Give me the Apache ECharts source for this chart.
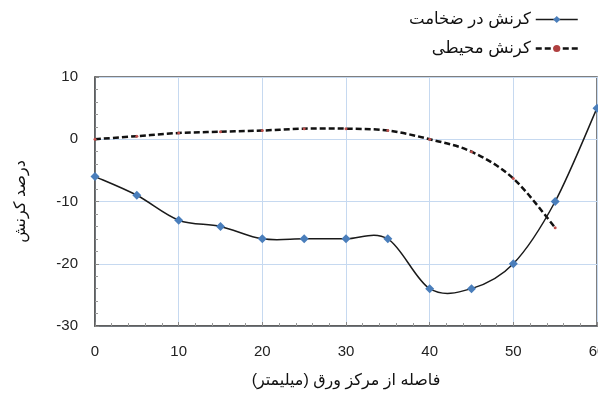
<!DOCTYPE html>
<html><head><meta charset="utf-8">
<script src="https://cdn.jsdelivr.net/npm/echarts@6/dist/echarts.min.js"></script>
<style>html,body{margin:0;padding:0;background:#fff}#c{width:598px;height:396px}</style>
</head><body><div id="c"></div>
<script>
var distances = [0, 5, 10, 15, 20, 25, 30, 35, 40, 45, 50, 55, 60];
var thicknessStrain = [-6, -9, -13, -14, -16, -16, -16, -16, -24, -24, -20, -10, 5];
var distances2 = [0, 5, 10, 15, 20, 25, 30, 35, 40, 45, 50, 55];
var hoopStrain = [0, 0.5, 1.0, 1.2, 1.4, 1.7, 1.7, 1.4, 0, -2, -6.3, -14.2];
var name1 = 'کرنش در ضخامت';
var name2 = 'کرنش محیطی';
var xTitle = 'فاصله از مرکز ورق (میلیمتر)\u200F';
var yTitle = 'درصد کرنش';
var FONT = '"Liberation Sans", "DejaVu Sans", Arial, sans-serif';

function pairs(xs, ys){ return xs.map(function(x,i){ return [x, ys[i]]; }); }

// Excel-like smoothed line drawn through the data points via the axis scales
function smoothRenderer(stroke, width, dash){
  return function(params, api){
    if (params.dataIndexInside !== 0) return null;
    var n = params.dataInsideLength, p = [];
    for (var i = 0; i < n; i++) p.push(api.coord([api.value(0, i), api.value(1, i)]));
    var d = 'M' + p[0][0] + ' ' + p[0][1];
    for (var k = 0; k < n - 1; k++){
      var p0 = p[Math.max(k - 1, 0)], p1 = p[k], p2 = p[k + 1], p3 = p[Math.min(k + 2, n - 1)];
      var c1x = p1[0] + (p2[0] - p0[0]) / 6, c1y = p1[1] + (p2[1] - p0[1]) / 6;
      var c2x = p2[0] - (p3[0] - p1[0]) / 6, c2y = p2[1] - (p3[1] - p1[1]) / 6;
      d += ' C' + c1x + ' ' + c1y + ' ' + c2x + ' ' + c2y + ' ' + p2[0] + ' ' + p2[1];
    }
    return {type: 'path', shape: {pathData: d},
      style: {fill: 'none', stroke: stroke, lineWidth: width, lineDash: dash || null}};
  };
}

var chart = echarts.init(document.getElementById('c'), null, {renderer:'canvas'});
chart.setOption({
  animation: false,
  textStyle: {fontFamily: FONT},
  grid: {left: 95, right: 1, top: 77, bottom: 70, show: true, borderColor: '#555', borderWidth: 1.5,
         outerBoundsMode: 'none', containLabel: false},
  legend: {
    orient: 'vertical', right: 14, top: 6, align: 'right', itemGap: 12,
    itemWidth: 42, itemHeight: 9,
    textStyle: {fontSize: 16.5, color: '#111', fontFamily: FONT},
    data: [
      {name: name1, lineStyle: {opacity: 1, color: '#1a1a1a', width: 1.5, type: 'solid'}},
      {name: name2, itemStyle: {color: '#b04040'},
       lineStyle: {opacity: 1, color: '#111', width: 2.5, type: [6, 3]}}
    ]
  },
  xAxis: {
    type: 'value', min: 0, max: 60, interval: 10,
    name: xTitle, nameLocation: 'middle', nameGap: 47,
    nameTextStyle: {fontSize: 16, color: '#111', fontFamily: FONT},
    axisLine: {show: true, onZero: false, lineStyle: {color: '#555', width: 1.5}},
    axisTick: {show: true, inside: true, length: 4, lineStyle: {color: '#888'}},
    minorTick: {show: true, splitNumber: 5, length: 3, lineStyle: {color: '#999'}},
    axisLabel: {fontSize: 15, color: '#222', margin: 18, fontFamily: FONT},
    splitLine: {show: true, lineStyle: {color: '#c6d9f0', width: 1}}
  },
  yAxis: {
    type: 'value', min: -30, max: 10, interval: 10,
    name: yTitle, nameLocation: 'middle', nameGap: 66, nameRotate: 90,
    nameTextStyle: {fontSize: 16, color: '#111', fontFamily: FONT},
    axisLine: {show: true, lineStyle: {color: '#555', width: 1.5}},
    axisTick: {show: true, inside: true, length: 4, lineStyle: {color: '#888'}},
    minorTick: {show: true, splitNumber: 5, length: 3, lineStyle: {color: '#999'}},
    axisLabel: {fontSize: 15, color: '#222', margin: 17, fontFamily: FONT},
    splitLine: {show: true, lineStyle: {color: '#c6d9f0', width: 1}}
  },
  series: [
    {
      name: name1, type: 'line',
      data: pairs(distances, thicknessStrain),
      symbol: 'diamond', symbolSize: 9,
      itemStyle: {color: '#4a7ebb'},
      lineStyle: {opacity: 0},
      z: 4
    },
    {
      name: name2, type: 'line',
      data: pairs(distances2, hoopStrain),
      symbol: 'circle', symbolSize: 3,
      itemStyle: {color: '#c0504d'},
      lineStyle: {opacity: 0},
      z: 4
    },
    {
      name: name1, type: 'custom', coordinateSystem: 'cartesian2d',
      data: pairs(distances, thicknessStrain),
      renderItem: smoothRenderer('#1a1a1a', 1.5),
      z: 3, silent: true
    },
    {
      name: name2, type: 'custom', coordinateSystem: 'cartesian2d',
      data: pairs(distances2, hoopStrain),
      renderItem: smoothRenderer('#111', 2.5, [6, 3]),
      z: 2, silent: true
    }
  ]
});
</script></body></html>
